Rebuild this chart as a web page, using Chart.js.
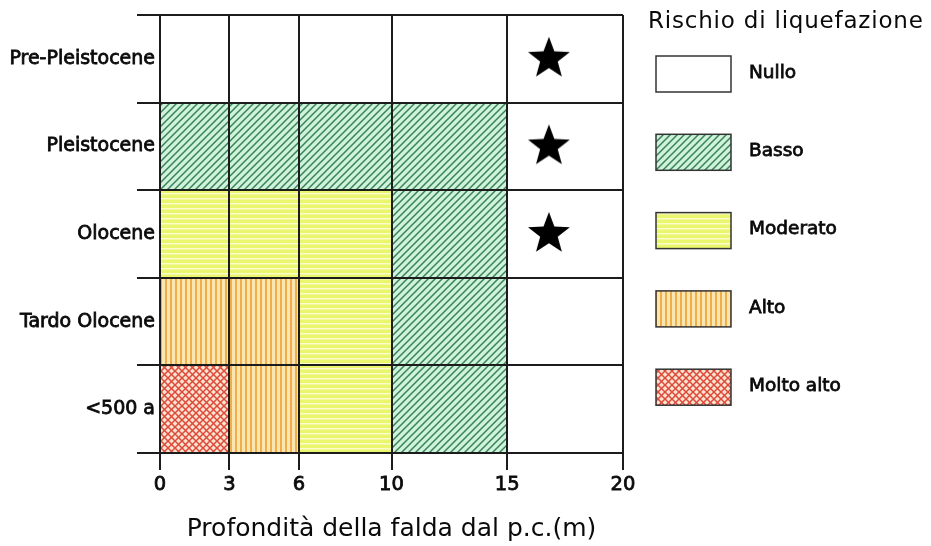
<!DOCTYPE html>
<html>
<head>
<meta charset="utf-8">
<title>Rischio di liquefazione</title>
<script src="https://cdn.jsdelivr.net/npm/chart.js@4.4.1/dist/chart.umd.min.js"></script>
<style>
  body { margin: 0; background: #fff; }
</style>
</head>
<body>
<canvas id="riskChart" width="931" height="546"></canvas>
<script>
// eta' dei depositi, dall'alto in basso
var ages = ['Pre-Pleistocene', 'Pleistocene', 'Olocene', 'Tardo Olocene', '<500 a'];
// profondita' della falda (m)
var depthTicks = [0, 3, 6, 10, 15, 20];
var riskLabels = ['Nullo', 'Basso', 'Moderato', 'Alto', 'Molto alto'];
var legendTitle = 'Rischio di liquefazione';
var axisTitle = 'Profondità della falda dal p.c.(m)';

// intervalli di profondita' per classe di rischio, uno per eta'
var nullo = [[0, 20], [15, 20], [15, 20], [15, 20], [15, 20]];
var basso = [null, [0, 15], [10, 15], [10, 15], [10, 15]];
var moderato = [null, null, [0, 10], [6, 10], [6, 10]];
var alto = [null, null, null, [0, 6], [3, 6]];
var moltoAlto = [null, null, null, null, [0, 3]];

// stelle
var starDepth = [16.8, 16.8, 16.8, null, null];

var textColor = '#0a0a0a';
Chart.defaults.font.family = '"DejaVu Sans", Verdana, sans-serif';
Chart.defaults.color = textColor;

var ctx = document.getElementById('riskChart').getContext('2d');

function makePattern(w, h, draw) {
    var c = document.createElement('canvas');
    c.width = w;
    c.height = h;
    draw(c.getContext('2d'), w, h);
    return ctx.createPattern(c, 'repeat');
}

// diagonal lines, tile-safe
function diag(g, w, h, up) {
    g.beginPath();
    if (up) {
        g.moveTo(0, h); g.lineTo(w, 0);
        g.moveTo(-w / 2, h / 2); g.lineTo(w / 2, -h / 2);
        g.moveTo(w / 2, h * 1.5); g.lineTo(w * 1.5, h / 2);
    } else {
        g.moveTo(0, 0); g.lineTo(w, h);
        g.moveTo(-w / 2, h / 2); g.lineTo(w / 2, h * 1.5);
        g.moveTo(w / 2, -h / 2); g.lineTo(w * 1.5, h / 2);
    }
    g.stroke();
}

var fills = [
    '#ffffff',
    makePattern(7, 7, function (g, w, h) {
        g.fillStyle = '#cff2dc';
        g.fillRect(0, 0, w, h);
        g.strokeStyle = '#3a8256';
        g.lineWidth = 1.5;
        diag(g, w, h, true);
    }),
    makePattern(1, 5, function (g, w, h) {
        g.fillStyle = '#e9f66e';
        g.fillRect(0, 0, w, h);
        g.fillStyle = '#fafcc9';
        g.fillRect(0, 3, w, 1.5);
    }),
    makePattern(5, 1, function (g, w, h) {
        g.fillStyle = '#fbe6b2';
        g.fillRect(0, 0, w, h);
        g.fillStyle = '#efae4a';
        g.fillRect(0, 0, 2, h);
    }),
    makePattern(7, 7, function (g, w, h) {
        g.fillStyle = '#fde3cf';
        g.fillRect(0, 0, w, h);
        g.strokeStyle = '#dc4a3c';
        g.lineWidth = 1.5;
        diag(g, w, h, true);
        diag(g, w, h, false);
    })
];

function starImage(r) {
    var c = document.createElement('canvas');
    c.width = c.height = r * 2 + 2;
    var g = c.getContext('2d');
    g.fillStyle = '#000';
    g.beginPath();
    for (var i = 0; i < 10; i++) {
        var rad = i % 2 ? r * 0.42 : r;
        var a = -Math.PI / 2 + i * Math.PI / 5;
        var px = r + 1 + rad * Math.cos(a), py = r + 1 + rad * Math.sin(a);
        if (i) g.lineTo(px, py); else g.moveTo(px, py);
    }
    g.closePath();
    g.fill();
    return c;
}

var series = [nullo, basso, moderato, alto, moltoAlto];

var datasets = series.map(function (d, i) {
    return {
        label: riskLabels[i],
        data: d,
        backgroundColor: fills[i],
        borderWidth: 0,
        grouped: false,
        barPercentage: 1,
        categoryPercentage: 1
    };
});

// stelle sopra le barre
datasets.push({
    type: 'scatter',
    label: '',
    order: -1,
    data: starDepth.map(function (v, i) { return v == null ? null : { x: v, y: ages[i] }; })
        .filter(function (p) { return p; }),
    pointStyle: starImage(22),
    pointRadius: 12
});

// legenda a destra
var riskLegend = {
    id: 'riskLegend',
    afterDraw: function (chart) {
        var c = chart.ctx;
        c.save();
        c.fillStyle = textColor;
        c.font = '23px "DejaVu Sans"';
        c.letterSpacing = '0.8px';
        c.textBaseline = 'alphabetic';
        c.fillText(legendTitle, 648, 28);
        c.letterSpacing = '0px';
        c.font = '18.5px "DejaVu Sans"';
        c.textBaseline = 'middle';
        chart.data.datasets.forEach(function (ds, i) {
            if (ds.type === 'scatter') return;
            var top = 56 + i * 78.3;
            c.fillStyle = ds.backgroundColor;
            c.fillRect(656, top, 75, 36);
            c.strokeStyle = '#333';
            c.lineWidth = 1.5;
            c.strokeRect(656, top, 75, 36);
            c.fillStyle = textColor;
            c.strokeStyle = textColor;
            c.lineWidth = 0.8;
            c.fillText(ds.label, 749, top + 17);
            c.strokeText(ds.label, 749, top + 17);
        });
        c.restore();
    }
};

var lineColor = '#1c1c1c';

var chart = new Chart(ctx, {
    type: 'bar',
    data: {
        labels: ages,
        datasets: datasets
    },
    options: {
        indexAxis: 'y',
        responsive: false,
        animation: false,
        layout: { padding: { top: 15, right: 308, left: 0, bottom: 0 } },
        plugins: {
            legend: { display: false },
            tooltip: { enabled: false }
        },
        scales: {
            x: {
                type: 'linear',
                min: 0,
                max: 20,
                afterBuildTicks: function (s) {
                    s.ticks = depthTicks.map(function (v) { return { value: v }; });
                },
                afterFit: function (s) { s.height = 93; },
                grid: { color: lineColor, lineWidth: 2, tickLength: 17, z: 1 },
                border: { color: lineColor, width: 2, z: 1 },
                ticks: {
                    font: { size: 19.5 },
                    padding: 3,
                    autoSkip: false,
                    maxRotation: 0,
                    textStrokeColor: textColor,
                    textStrokeWidth: 0.8
                },
                title: {
                    display: true,
                    text: axisTitle,
                    font: { size: 25 },
                    padding: { top: 0, bottom: 2 }
                }
            },
            y: {
                type: 'category',
                offset: true,
                afterFit: function (s) { s.width = 160; },
                grid: { offset: true, color: lineColor, lineWidth: 2, tickLength: 23, z: 1 },
                border: { color: lineColor, width: 2, z: 1 },
                ticks: {
                    font: { size: 19 },
                    padding: -18,
                    textStrokeColor: textColor,
                    textStrokeWidth: 0.8
                }
            }
        }
    },
    plugins: [riskLegend]
});
</script>
</body>
</html>
